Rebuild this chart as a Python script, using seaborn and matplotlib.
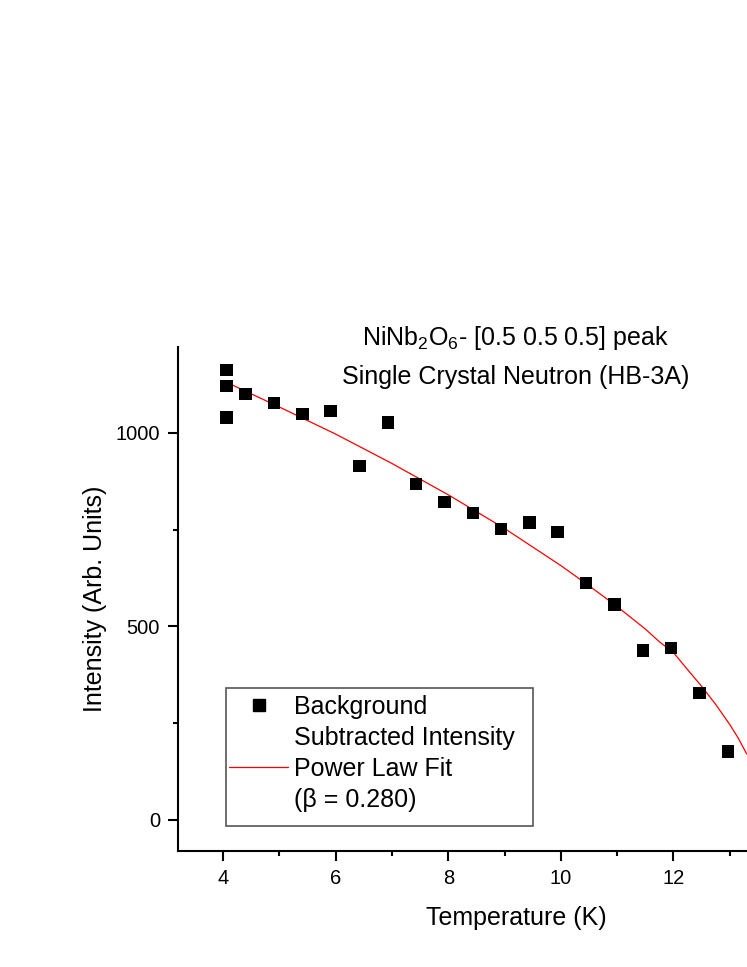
import matplotlib
matplotlib.use("Agg")
import matplotlib.pyplot as plt
import seaborn as sns
import pandas as pd
from matplotlib.lines import Line2D
from matplotlib.patches import Rectangle
from matplotlib.ticker import MultipleLocator

temperature = [4.06, 4.06, 4.06, 4.40, 4.90, 5.41, 5.91, 6.42, 6.93, 7.43, 7.93,
               8.44, 8.94, 9.44, 9.94, 10.45, 10.95, 11.46, 11.96, 12.46, 12.97]
intensity = [1163, 1121, 1040, 1101, 1077, 1049, 1057, 915, 1027, 868, 821,
             793, 752, 768, 744, 612, 556, 437, 444, 327, 176]

# power law fit curve, sampled from the plot
fit_t = [4.06, 5.0, 6.0, 7.0, 8.0, 9.0, 10.0, 10.5, 11.0, 11.25, 11.5, 11.75,
         12.0, 12.25, 12.5, 12.75, 13.0, 13.15, 13.3]
fit_i = [1131, 1067, 997, 921, 840, 753, 657, 605, 551, 522, 493, 460,
         432, 388, 345, 298, 246, 211, 170]

x_ticks = [4, 6, 8, 10, 12]
y_ticks = [0, 500, 1000]

sns.set_theme(style="ticks")
plt.rcParams["font.family"] = ["Liberation Sans", "DejaVu Sans"]
plt.rcParams["mathtext.fontset"] = "custom"
plt.rcParams["mathtext.rm"] = "Liberation Sans"
for key in ["text.color", "axes.labelcolor", "xtick.color", "ytick.color"]:
    plt.rcParams[key] = "black"

fig = plt.figure(figsize=(7.47, 9.67), dpi=100)
ax = fig.add_axes([0.2383, 0.1203, 0.9045, 0.5208])

data = pd.DataFrame({"T": temperature, "I": intensity})
fit = pd.DataFrame({"T": fit_t, "I": fit_i})

sns.scatterplot(data=data, x="T", y="I", marker="s", s=80, color="black",
                edgecolor="none", ax=ax, legend=False, zorder=3)
sns.lineplot(data=fit, x="T", y="I", color="red", lw=0.9, ax=ax,
             sort=False, estimator=None, legend=False, zorder=2)

ax.set_xlim(3.2, 15.2)
ax.set_ylim(-80, 1222)
ax.set_xticks(x_ticks)
ax.set_yticks(y_ticks)
ax.xaxis.set_minor_locator(MultipleLocator(1))
ax.yaxis.set_minor_locator(MultipleLocator(250))

for side in ["top", "right"]:
    ax.spines[side].set_visible(False)
for side in ["left", "bottom"]:
    ax.spines[side].set_linewidth(1.5)
    ax.spines[side].set_color("black")

ax.tick_params(which="major", direction="out", length=7, width=1.5,
               labelsize=14.5, pad=6)
ax.tick_params(which="minor", direction="out", length=3.8, width=1.5)

ax.set_xlabel("Temperature (K)", fontsize=18, labelpad=13)
ax.set_ylabel("Intensity (Arb. Units)", fontsize=18, labelpad=6)

ax.text(0.5, 1.018, "NiNb$_2$O$_6$- [0.5 0.5 0.5] peak", transform=ax.transAxes,
        ha="center", va="center", fontsize=18)
ax.text(0.5, 0.940, "Single Crystal Neutron (HB-3A)", transform=ax.transAxes,
        ha="center", va="center", fontsize=18)

handles = [
    Line2D([], [], marker="s", color="black", linestyle="none", markersize=8),
    Line2D([], [], linestyle="none"),
    Line2D([], [], color="red", lw=0.9),
    Line2D([], [], linestyle="none"),
]
labels = ["Background", "Subtracted Intensity", "Power Law Fit", "(\u03b2 = 0.280)"]
ax.legend(handles, labels, loc="upper left",
          bbox_to_anchor=(229 / 747, 1 - 695 / 967),
          bbox_transform=fig.transFigure, borderaxespad=0,
          fontsize=18, frameon=False, handlelength=2.36, handletextpad=0.22,
          labelspacing=0.28, borderpad=0)
# legend frame
fig.patches.append(Rectangle((225.7 / 747, 1 - 826 / 967), (533 - 225.7) / 747,
                             (826 - 688) / 967, transform=fig.transFigure,
                             fill=False, edgecolor="#555555", lw=1.2))

fig.savefig("out.png", dpi=100)
